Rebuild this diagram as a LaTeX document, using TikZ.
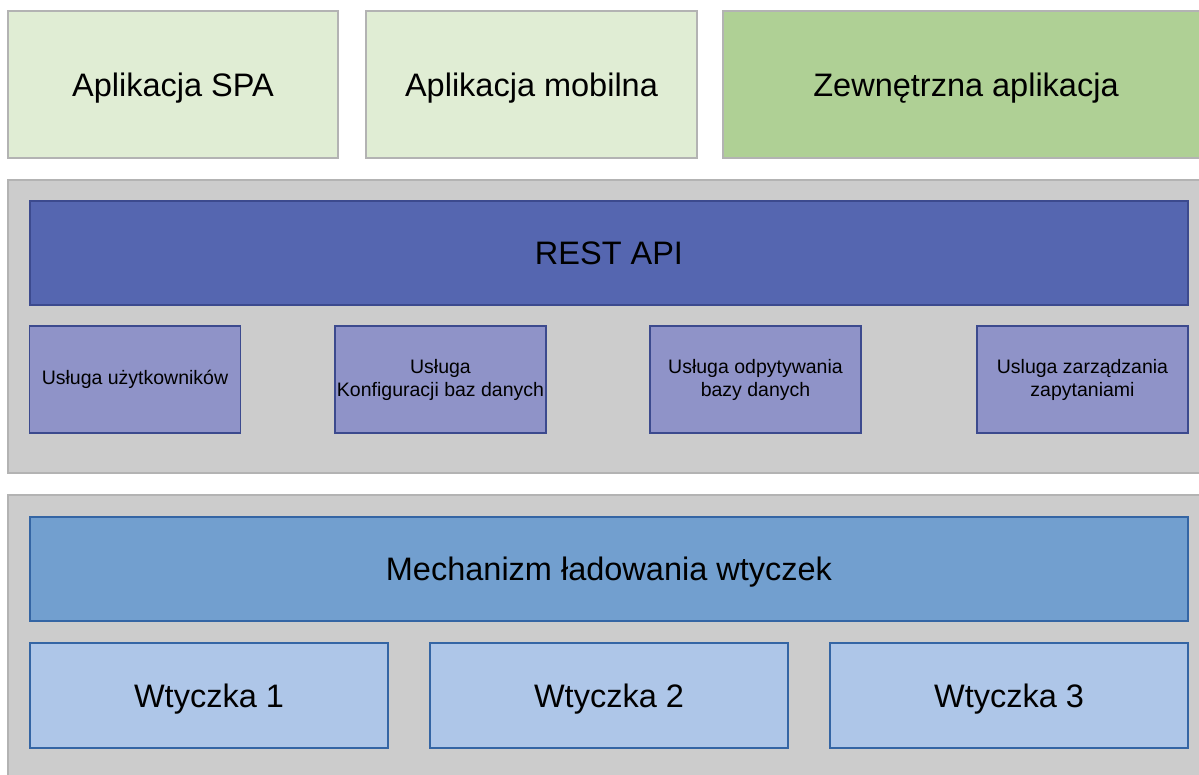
\documentclass[tikz,border=0pt]{standalone}
\usepackage{fontspec}
\setmainfont{Liberation Sans}
\usetikzlibrary{positioning}

\definecolor{appLight}{HTML}{E0EDD4}
\definecolor{appGreen}{HTML}{AFD095}
\definecolor{layerGray}{HTML}{CCCCCC}
\definecolor{layerLine}{HTML}{B3B3B3}
\definecolor{apiFill}{HTML}{5566B0}
\definecolor{apiLine}{HTML}{3C4A8E}
\definecolor{svcFill}{HTML}{8F93C8}
\definecolor{mechFill}{HTML}{729FCF}
\definecolor{mechLine}{HTML}{3465A4}
\definecolor{plugFill}{HTML}{AEC6E8}

\tikzset{
  bigtext/.style={font=\fontsize{32.5}{38}\selectfont, text height=23.4pt, text depth=0pt},
  smalltext/.style={font=\fontsize{19.5}{23}\selectfont},
  box/.style={rectangle, inner sep=0pt, line width=1.2pt, align=center},
  appbox/.style={box, bigtext, fill=appLight, draw=layerLine},
  layer/.style={box, fill=layerGray, draw=layerLine},
  apibox/.style={box, bigtext, fill=apiFill, draw=apiLine,
    minimum width=1158pt, minimum height=104pt},
  svcbox/.style={box, smalltext, fill=svcFill, draw=apiLine,
    minimum width=211pt, minimum height=107pt},
  mechbox/.style={box, bigtext, fill=mechFill, draw=mechLine,
    minimum width=1158pt, minimum height=104pt},
  plugbox/.style={box, bigtext, fill=plugFill, draw=mechLine,
    minimum width=358pt, minimum height=105pt}
}

\begin{document}
\begin{tikzpicture}[x=1pt,y=-1pt]
  \useasboundingbox (0,0) rectangle (1199,774);
  \clip (0,0) rectangle (1199,774);

  %%%%%%%%%%%%%%%%% clients %%%%%%%%%%%%%%%%%%%
  \node[appbox, minimum width=330pt, minimum height=147pt] (spa) at (173,84.5) {Aplikacja SPA};
  \node[appbox, minimum width=331pt, minimum height=147pt] (mobile) at (531.5,84.5) {Aplikacja mobilna};
  \node[appbox, fill=appGreen, minimum width=486pt, minimum height=147pt] (external) at (966,84.5) {Zewnętrzna aplikacja};

  %%%%%%%%%%%%%%%%% api layer %%%%%%%%%%%%%%%%%
  \node[layer, minimum width=1202pt, minimum height=293pt] (apiLayer) at (609,326.5) {};
  \node[apibox] (rest) at (609,253) {REST API};

  % services below the REST API, x = centre
  \foreach \x/\name/\label in {135/users/Usługa użytkowników,
      440.5/dbconfig/Usługa\\Konfiguracji baz danych,
      755.5/dbquery/Usługa odpytywania\\bazy danych,
      1082.5/queries/Usluga zarządzania\\zapytaniami}
  {\node[svcbox] (\name) at (\x,379.5) {\label};}

  %%%%%%%%%%%%%%%%% plugin layer %%%%%%%%%%%%%%
  \node[layer, minimum width=1202pt, minimum height=290pt] (pluginLayer) at (609,640) {};
  \node[mechbox] (loader) at (609,569) {Mechanizm ładowania wtyczek};

  \foreach \x [count=\n from 1] in {209,609,1009}
  {\node[plugbox] (plugin\n) at (\x,695.5) {Wtyczka \n};}
\end{tikzpicture}
\end{document}
